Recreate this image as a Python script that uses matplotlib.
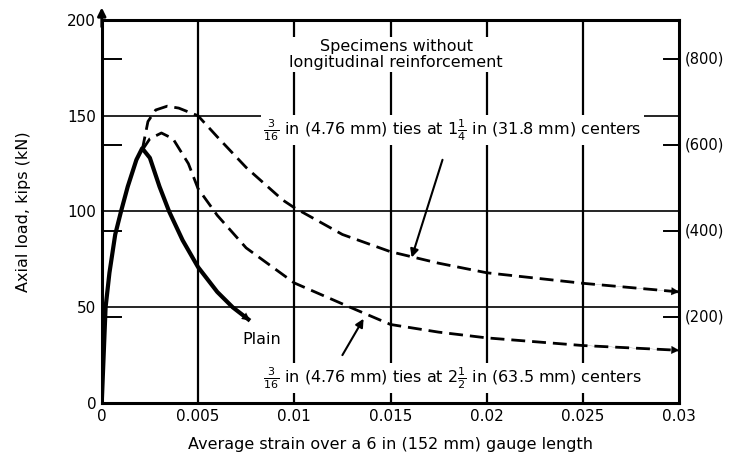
import numpy as np
import matplotlib.pyplot as plt

# strain (in/in) and axial load (kips)
plain_strain = [0, 0.0001, 0.0002, 0.0004, 0.0007, 0.001, 0.00135, 0.0018, 0.0021,
                0.0025, 0.003, 0.0035, 0.0042, 0.005, 0.006, 0.0068, 0.0077]
plain_load = [0, 25, 50, 68, 88, 100, 113, 127, 133,
              128, 113, 100, 85, 71, 58, 50, 43]

ties_125_strain = [0.0021, 0.0024, 0.0028, 0.0034, 0.004, 0.005, 0.006, 0.0075,
                   0.0094, 0.01, 0.0125, 0.015, 0.0175, 0.02, 0.025, 0.03]
ties_125_load = [132, 147, 153, 155, 154, 150, 139, 123,
                 106, 102, 88, 79, 73, 68, 62.5, 58]

ties_250_strain = [0.0021, 0.0025, 0.0031, 0.0037, 0.0045, 0.005, 0.006, 0.0075,
                   0.01, 0.0129, 0.015, 0.0175, 0.02, 0.025, 0.03]
ties_250_load = [132, 138, 141, 138, 125, 112, 98, 81,
                 62.7, 50, 41, 37, 34, 30, 27.5]

x_ticks = [0, 0.005, 0.01, 0.015, 0.02, 0.025, 0.03]
x_labels = ["0", "0.005", "0.01", "0.015", "0.02", "0.025", "0.03"]
y_ticks = [0, 50, 100, 150, 200]
kn_ticks = [200, 400, 600, 800]
KN_PER_KIP = 4.448

plt.rcParams['font.family'] = ['DejaVu Sans']

fig = plt.figure(figsize=(7.32, 4.63), dpi=100)
ax = fig.add_axes([0.139, 0.1296, 0.789, 0.8272])

# grid
for xv in x_ticks[1:-1]:
    ax.axvline(xv, color='black', lw=1.6, zorder=1)
for yv in y_ticks[1:-1]:
    ax.axhline(yv, color='black', lw=1.2, zorder=1)

dash = (0, (5, 2.5))
ax.plot(plain_strain, plain_load, color='black', lw=3, solid_capstyle='butt', zorder=3)
ax.plot(ties_125_strain, ties_125_load, color='black', lw=2, linestyle=dash, zorder=3)
ax.plot(ties_250_strain, ties_250_load, color='black', lw=2, linestyle=dash, zorder=3)

# arrowheads at the curve ends
for s, l in [(plain_strain, plain_load), (ties_125_strain, ties_125_load),
             (ties_250_strain, ties_250_load)]:
    ax.annotate("", xy=(s[-1], l[-1]), xytext=(s[-2], l[-2]),
                arrowprops=dict(arrowstyle='-|>', color='black', lw=0.1,
                                mutation_scale=14, shrinkA=0, shrinkB=0), zorder=4)

ax.set_xlim(0, 0.03)
ax.set_ylim(0, 200)
ax.set_xticks(x_ticks)
ax.set_xticklabels(x_labels)
ax.set_yticks(y_ticks)
ax.tick_params(axis='both', length=0, labelsize=11, pad=4)
for sp in ax.spines.values():
    sp.set_linewidth(2.2)

# kN ticks, pointing inward on both sides
for kn in kn_ticks:
    k = kn / KN_PER_KIP
    ax.plot([0, 0.001], [k, k], color='black', lw=1.4, clip_on=False, zorder=2)
    ax.plot([0.0292, 0.03], [k, k], color='black', lw=1.4, clip_on=False, zorder=2)
    ax.text(0.0303, k, f"({kn})", fontsize=10.5, va='center', ha='left')

# arrow at top of load axis
ax.annotate("", xy=(0, 208), xytext=(0, 195),
            arrowprops=dict(arrowstyle='-|>', color='black', lw=2, mutation_scale=12),
            annotation_clip=False)

fs = 11.5
box = dict(facecolor='white', edgecolor='none', pad=1.5)
ax.text(0.0153, 182, "Specimens without\nlongitudinal reinforcement", fontsize=fs,
        ha='center', va='center', linespacing=1.1, bbox=box, zorder=5)
ax.text(0.0084, 142.5,
        r"$\frac{3}{16}$ in (4.76 mm) ties at $1\frac{1}{4}$ in (31.8 mm) centers",
        fontsize=fs, ha='left', va='center', bbox=box, zorder=5)
ax.text(0.0084, 13,
        r"$\frac{3}{16}$ in (4.76 mm) ties at $2\frac{1}{2}$ in (63.5 mm) centers",
        fontsize=fs, ha='left', va='center', bbox=box, zorder=5)
ax.text(0.0073, 33, "Plain", fontsize=fs, ha='left', va='center', zorder=5)

arrow = dict(arrowstyle='-|>', color='black', lw=1.5, mutation_scale=12, shrinkA=0, shrinkB=0)
ax.annotate("", xy=(0.0161, 76), xytext=(0.0177, 127), arrowprops=arrow, zorder=4)
ax.annotate("", xy=(0.0136, 44), xytext=(0.0125, 25), arrowprops=arrow, zorder=4)

ax.set_ylabel("Axial load, kips (kN)", fontsize=fs, labelpad=26)
ax.set_xlabel("Average strain over a 6 in (152 mm) gauge length", fontsize=fs, labelpad=10)

fig.savefig("out.png", dpi=100)
